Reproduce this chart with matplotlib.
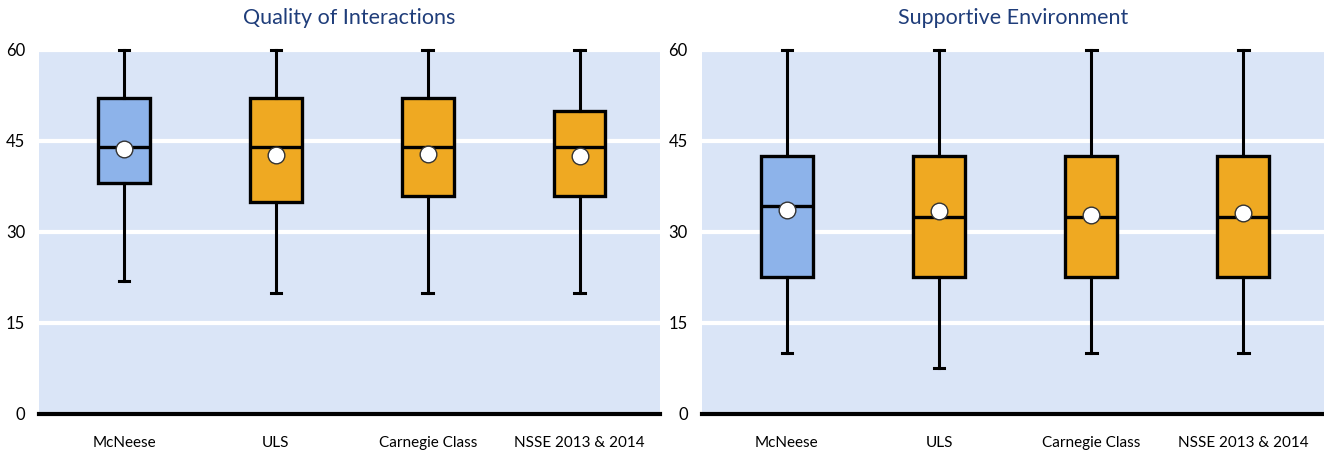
import matplotlib.pyplot as plt

plt.rcParams['font.family'] = ['Lato', 'DejaVu Sans']

groups = ["McNeese", "ULS", "Carnegie Class", "NSSE 2013 & 2014"]
box_colors = ["#8DB3EA", "#EFA922", "#EFA922", "#EFA922"]

# Quality of Interactions
qi_low = [22, 20, 20, 20]
qi_q1 = [38, 35, 36, 36]
qi_med = [44, 44, 44, 44]
qi_q3 = [52, 52, 52, 50]
qi_high = [60, 60, 60, 60]
qi_mean = [43.6, 42.7, 42.8, 42.5]

# Supportive Environment
se_low = [10, 7.5, 10, 10]
se_q1 = [22.5, 22.5, 22.5, 22.5]
se_med = [34.3, 32.5, 32.5, 32.5]
se_q3 = [42.5, 42.5, 42.5, 42.5]
se_high = [60, 60, 60, 60]
se_mean = [33.6, 33.5, 32.8, 33.2]

panels = [
    ("Quality of Interactions", qi_low, qi_q1, qi_med, qi_q3, qi_high, qi_mean),
    ("Supportive Environment", se_low, se_q1, se_med, se_q3, se_high, se_mean),
]

fig = plt.figure(figsize=(13.24, 4.5), dpi=100)
axes = [fig.add_axes([0.0295, 0.08, 0.469, 0.809]),
        fig.add_axes([0.530, 0.08, 0.470, 0.809])]

for ax, (title, low, q1, med, q3, high, mean) in zip(axes, panels):
    stats = []
    for i in range(len(groups)):
        stats.append({"whislo": low[i], "q1": q1[i], "med": med[i], "q3": q3[i],
                      "whishi": high[i], "mean": mean[i], "label": groups[i], "fliers": []})
    ax.set_facecolor("#DAE5F7")
    ax.grid(axis='y', color='white', linewidth=3, zorder=0)
    ax.set_axisbelow(True)
    bp = ax.bxp(stats, positions=range(len(groups)), widths=0.34, patch_artist=True,
                showmeans=True, showfliers=False,
                boxprops=dict(linewidth=2.4, edgecolor='black'),
                medianprops=dict(color='black', linewidth=2.4),
                whiskerprops=dict(color='black', linewidth=2.2),
                capprops=dict(color='black', linewidth=2.2),
                meanprops=dict(marker='o', markerfacecolor='white', markeredgecolor='#333333',
                               markersize=12, markeredgewidth=1))
    for patch, c in zip(bp['boxes'], box_colors):
        patch.set_facecolor(c)
    for cap in bp['caps']:
        cap.set_xdata([cap.get_xdata()[0] + 0.05, cap.get_xdata()[1] - 0.05])
        cap.set_clip_on(False)
    for w in bp['whiskers']:
        w.set_clip_on(False)

    ax.set_xlim(-0.56, 3.53)
    ax.set_ylim(0, 60)
    ax.set_yticks([0, 15, 30, 45, 60])
    ax.tick_params(axis='both', length=0, labelsize=12)
    ax.tick_params(axis='x', labelsize=11, pad=16)
    ax.tick_params(axis='y', pad=10)
    for s in ['top', 'right', 'left']:
        ax.spines[s].set_visible(False)
    ax.spines['bottom'].set_linewidth(3)
    ax.set_title(title, color='#1F3D7A', fontsize=15.5, pad=19)

plt.savefig("out.png", dpi=100)
